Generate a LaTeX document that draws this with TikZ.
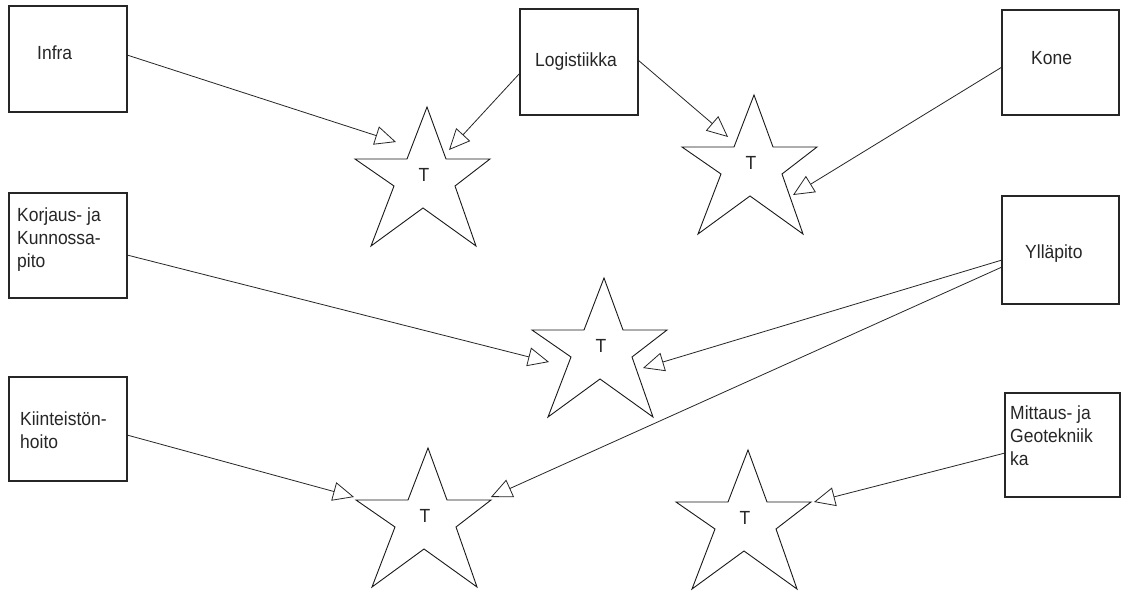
\documentclass[tikz,border=0pt]{standalone}
\usepackage{fontspec}
\setmainfont{Liberation Sans}[FakeStretch=0.92]
\usetikzlibrary{arrows.meta}
\begin{document}
\begin{tikzpicture}[x=1pt,y=-1pt,
  box/.style={draw=black!85, line width=1.3pt, minimum width=118pt, minimum height=106pt, inner sep=0pt, outer sep=0pt},
  lbl/.style={anchor=base west, inner sep=0pt, text=black!85, font=\fontsize{19}{23}\selectfont},
  starline/.style={draw=black!90, line width=0.9pt, line join=miter},
  starlbl/.style={inner sep=0pt, text=black!85, font=\fontsize{19}{23}\selectfont},
  link/.style={draw=black!85, line width=0.8pt, -{Triangle[open,length=21pt,width=19pt]}},
  tstar/.pic={
    \draw[starline] (4,-52) -- (23,0) -- (67,0) -- (32,27) -- (53,87) -- (0,49)
      -- (-52,87) -- (-29,27) -- (-68,0) -- (-16,0) -- cycle;
    \node[starlbl] (-t) at (1,16) {T};
  }]
\useasboundingbox[fill=white] (0,0) rectangle (1123,596);

% department boxes
\node[box] (infra) at (68,59) {};
\node[box] (logi) at (579,62) {};
\node[box, minimum width=117pt, minimum height=105pt] (kone) at (1060.5,62.5) {};
\node[box, minimum height=105pt] (korjaus) at (68,245.5) {};
\node[box, minimum width=117pt, minimum height=108pt] (yllapito) at (1060.5,250) {};
\node[box, minimum height=104pt] (kiint) at (68,429) {};
\node[box, minimum width=115pt, minimum height=104pt] (mittaus) at (1062.5,445) {};

% box texts
\node[lbl] (infra-l) at (37,60) {Infra};
\node[lbl] (logi-l) at (535,67) {Logistiikka};
\node[lbl] (kone-l) at (1031,65) {Kone};
\node[lbl] (yllapito-l) at (1025,258) {Ylläpito};
\node[lbl] (korjaus-l) at (17,221) {\vtop{\hbox{Korjaus- ja}\hbox{Kunnossa-}\hbox{pito}}};
\node[lbl] (kiint-l) at (20,425) {\vtop{\hbox{Kiinteistön-}\hbox{hoito}}};
\node[lbl] (mittaus-l) at (1010,419) {\vtop{\hbox{Mittaus- ja}\hbox{Geotekniik}\hbox{ka}}};

% stars
\pic (s1) at (423,159) {tstar};
\pic (s2) at (750,147) {tstar};
\pic (s3) at (600,330) {tstar};
\pic (s4) at (424,500) {tstar};
\pic (s5) at (744,502) {tstar};

% arrow ends beside the stars
\coordinate (s1-a) at (396,142);
\coordinate (s1-b) at (449,150);
\coordinate (s2-a) at (728,137);
\coordinate (s2-b) at (793,195);
\coordinate (s3-a) at (549,362);
\coordinate (s3-b) at (643,368);
\coordinate (s4-a) at (354,497);
\coordinate (s4-b) at (491,497);
\coordinate (s5-a) at (814,502);

% connectors
\draw[link] ([yshift=4pt]infra.east) -- (s1-a);
\draw[link] ([yshift=-11pt]logi.west) -- (s1-b);
\draw[link] ([yshift=2pt]logi.east) -- (s2-a);
\draw[link] ([yshift=-4.5pt]kone.west) -- (s2-b);
\draw[link] ([yshift=-9.5pt]korjaus.east) -- (s3-a);
\draw[link] ([yshift=-10pt]yllapito.west) -- (s3-b);
\draw[link] ([yshift=-17pt]yllapito.west) -- (s4-b);
\draw[link] ([yshift=-6pt]kiint.east) -- (s4-a);
\draw[link] ([yshift=-8pt]mittaus.west) -- (s5-a);
\end{tikzpicture}
\end{document}
